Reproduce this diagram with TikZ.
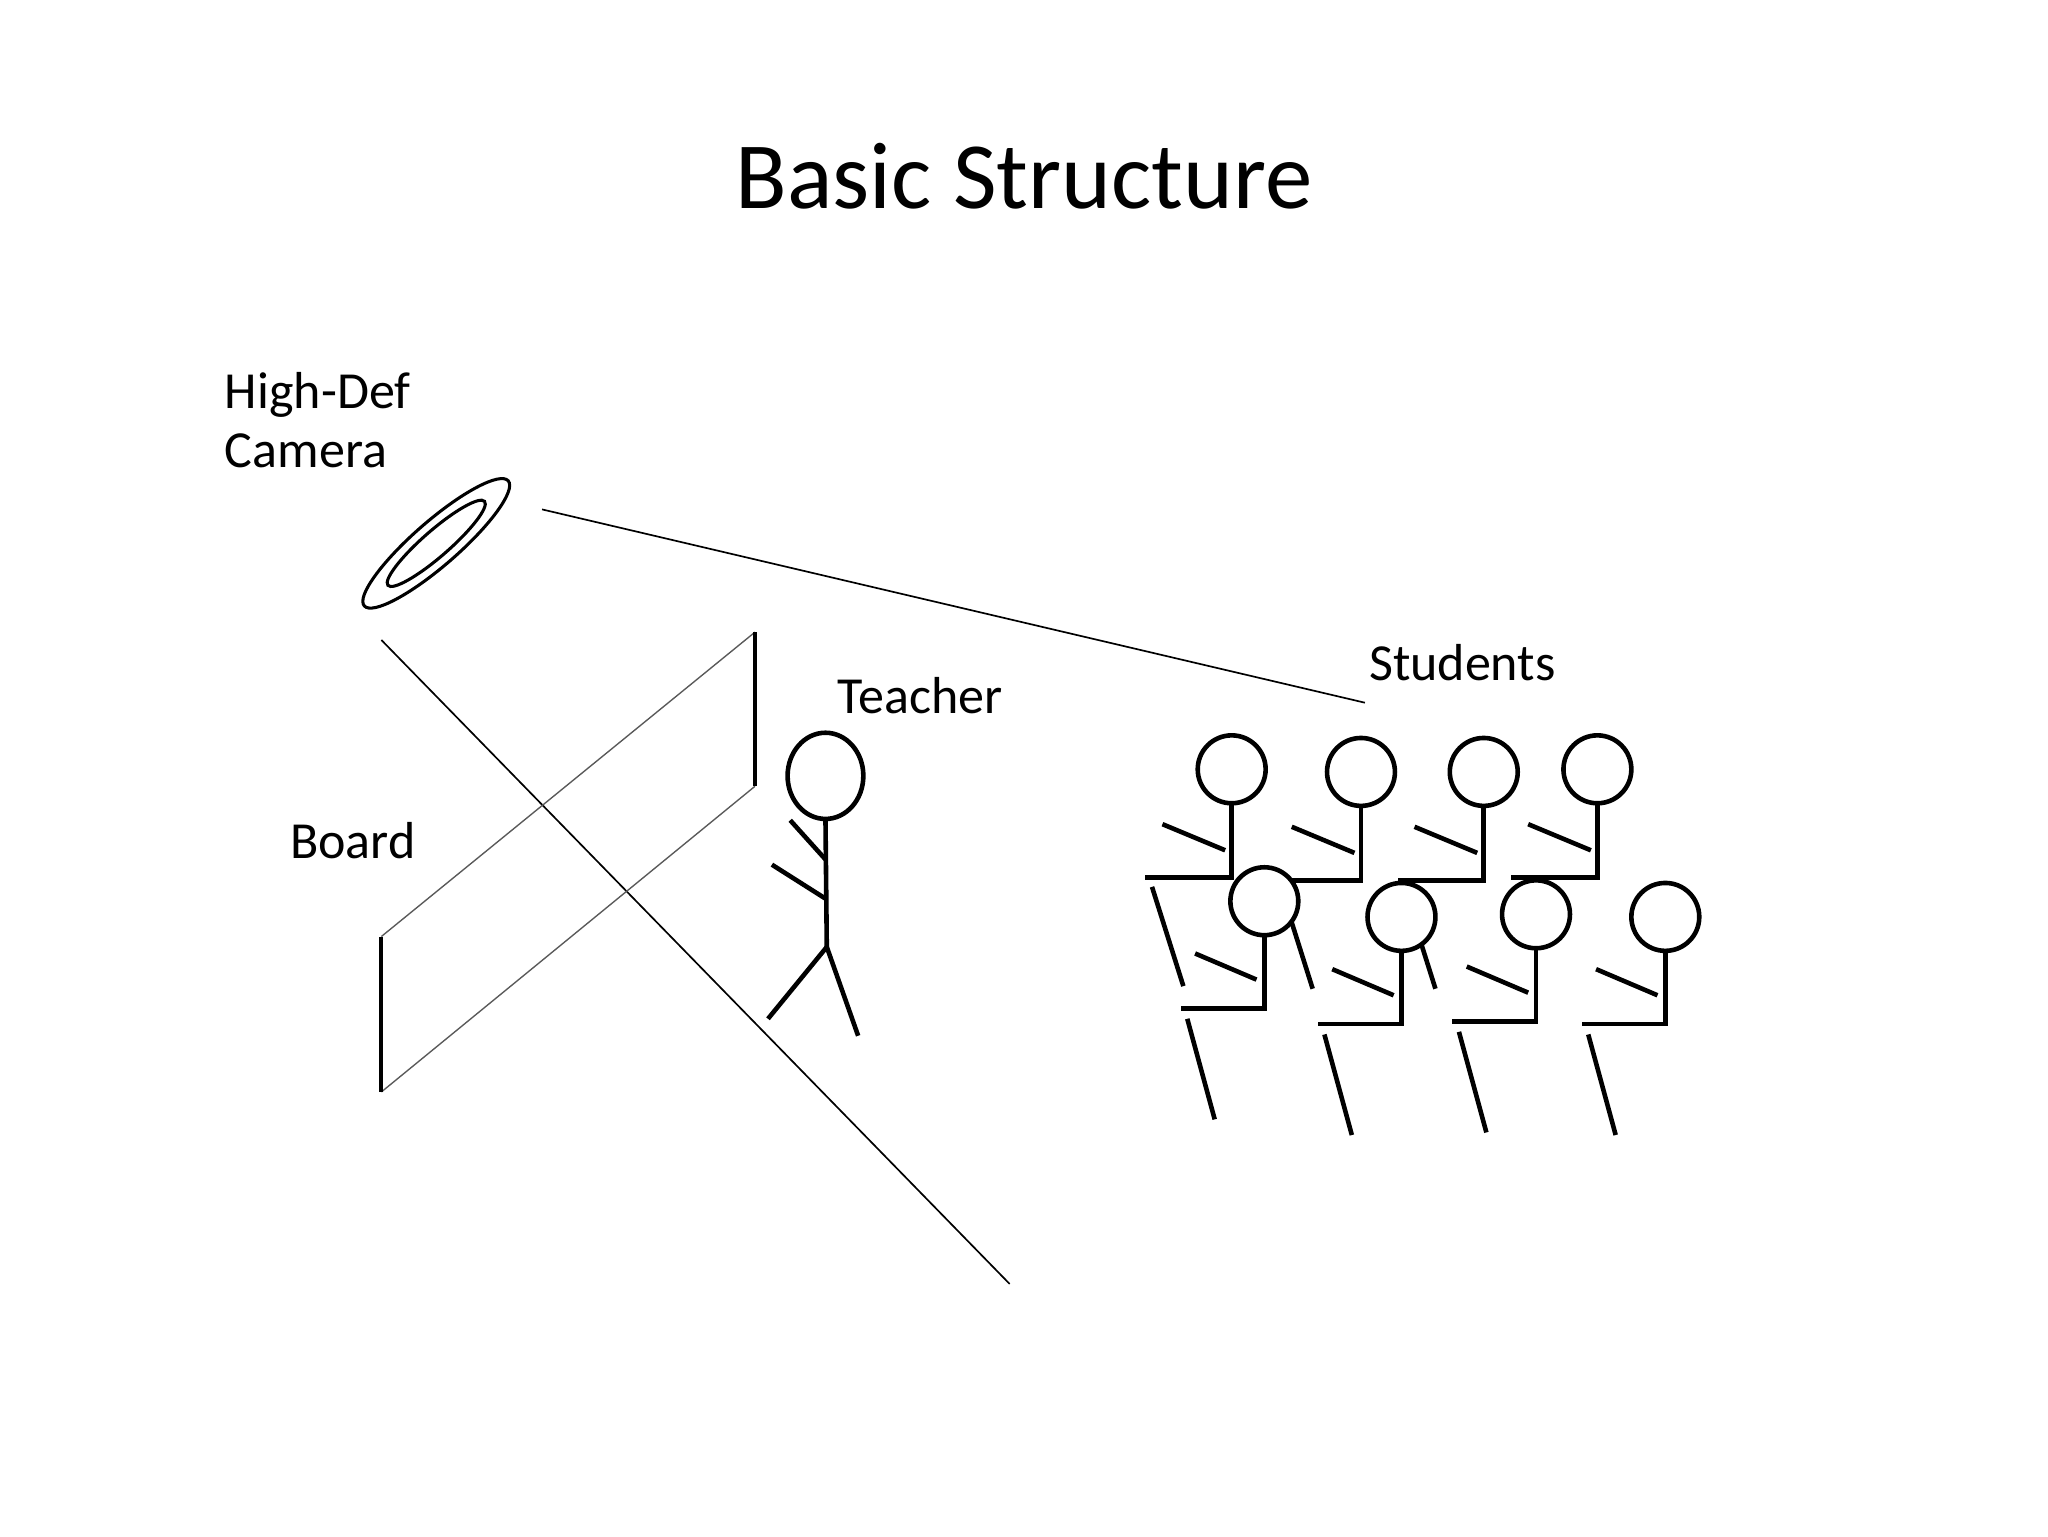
\documentclass[tikz,border=0pt]{standalone}
\usepackage{fontspec}
\setmainfont{Carlito}
\begin{document}
\begin{tikzpicture}[x=0.03cm,y=-0.03cm,
  lbl/.style={anchor=base west,inner sep=0,font=\fontsize{34}{38}\selectfont},
  stick/.style={line width=3pt,line cap=butt},
  thin/.style={line width=1.1pt},
  head/.style={circle,draw,line width=3pt,fill=white,minimum size=52*0.03cm,inner sep=0}]
\useasboundingbox (0,0) rectangle (1568,1176);
\node[anchor=base,inner sep=0,font=\fontsize{62}{66}\selectfont] (title) at (784,160) {Basic Structure};
\node[lbl] (cam) at (172,313) {High-Def};
\node[lbl] (cam2) at (172,358) {Camera};
\node[lbl] (teach) at (641,546) {Teacher};
\node[lbl] (stud) at (1048,521) {Students};
\node[lbl] (board) at (222,657) {Board};
% camera
\draw[line width=2pt,rotate around={41:(334,416)}] (334,416) ellipse [x radius=73,y radius=17];
\draw[line width=2pt,rotate around={41:(334,416)}] (334,416) ellipse [x radius=49,y radius=10];
\coordinate (c1) at (415,390); \coordinate (c2) at (1045,538);
\coordinate (c3) at (292,490); \coordinate (c4) at (773,983);
\draw[thin] (c1) -- (c2);
\draw[thin] (c3) -- (c4);
% board
\draw[line width=0.9pt,gray!70!black] (292,717) -- (578,484);
\draw[line width=0.9pt,gray!70!black] (292,836) -- (578,602);
\draw[line width=2.5pt] (292,717) -- (292,836);
\draw[line width=2.5pt] (578,484) -- (578,602);
% teacher
\draw[line width=3pt] (632,594) ellipse [x radius=29,y radius=33];
\draw[stick] (632,627) -- (633,725);
\draw[stick] (605,628) -- (632,658);
\draw[stick] (591,662) -- (632,688);
\draw[stick] (588,780) -- (633,725) -- (657,793);
% students back row
\foreach \x/\y/\leg in {943/589/1,1042/591/1,1136/591/1,1223/589/0}{
  \draw[stick] (\x,\y+26) -- (\x,\y+83) -- (\x-66,\y+83);
  \draw[stick] (\x-53,\y+42) -- (\x-5,\y+62);
  \ifnum\leg=1 \draw[stick] (\x-61,\y+90) -- (\x-37,\y+166); \fi
  \node[head] at (\x,\y) {};
}
% front row
\foreach \x/\y in {968/690,1073/702,1176/700,1275/702}{
  \draw[stick] (\x,\y+26) -- (\x,\y+82) -- (\x-64,\y+82);
  \draw[stick] (\x-53,\y+40) -- (\x-6,\y+60);
  \draw[stick] (\x-59,\y+90) -- (\x-38,\y+167);
  \node[head] at (\x,\y) {};
}
\end{tikzpicture}
\end{document}
